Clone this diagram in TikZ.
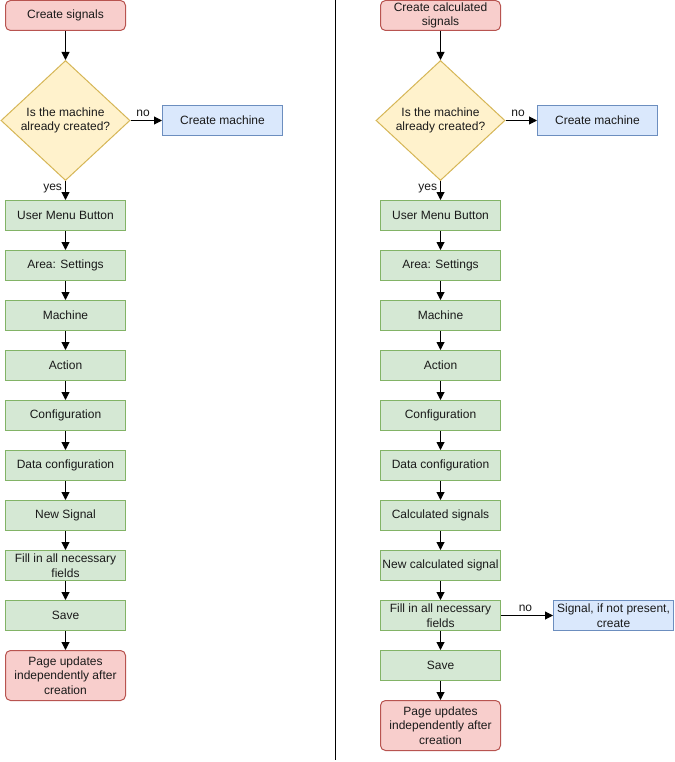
\documentclass[tikz,border=0pt]{standalone}
\usepackage{fontspec}
\setmainfont{Liberation Sans}
\usetikzlibrary{shapes.geometric,arrows.meta}
\definecolor{redf}{HTML}{F8CECC}\definecolor{redd}{HTML}{B85450}
\definecolor{yelf}{HTML}{FFF2CC}\definecolor{yeld}{HTML}{D6B656}
\definecolor{bluf}{HTML}{DAE8FC}\definecolor{blud}{HTML}{6C8EBF}
\definecolor{grnf}{HTML}{D5E8D4}\definecolor{grnd}{HTML}{82B366}
\definecolor{txt}{HTML}{1A1A1A}
\begin{document}
\begin{tikzpicture}[x=1pt,y=-1pt,
  every node/.style={font=\fontsize{12}{14.5}\selectfont, align=center, inner sep=0pt, text=txt},
  base/.style={draw, line width=1pt, minimum width=120pt, minimum height=30pt},
  term/.style={base, fill=redf, draw=redd, rounded corners=5pt},
  termtall/.style={term, minimum height=50pt},
  stepbox/.style={base, fill=grnf, draw=grnd},
  sidebox/.style={base, fill=bluf, draw=blud},
  decision/.style={diamond, draw=yeld, fill=yelf, line width=1pt, minimum width=129pt, minimum height=120pt, shape aspect=1.075},
  arr/.style={line width=1pt, -{Triangle[length=8pt,width=8pt]}},
  lbl/.style={font=\fontsize{12}{14}\selectfont, fill=none}
]
\useasboundingbox (0,0) rectangle (674,762);
\path[fill=white] (0,0) rectangle (674,762);
% divider
\coordinate (dt) at (335.5,0);
\coordinate (db) at (335.5,760);
\draw[line width=1pt] (dt) -- (db);

% Left column
\node[term] (l0) at (65.5,15.5) {Create signals};
\node[decision] (ld) at (65.5,120.5) {Is the machine\\already created?};
\node[sidebox] (lcm) at (222.5,120.5) {Create machine};
\node[stepbox] (l1) at (65.5,215.5) {User Menu Button};
\node[stepbox] (l2) at (65.5,265.5) {Area: Settings};
\node[stepbox] (l3) at (65.5,315.5) {Machine};
\node[stepbox] (l4) at (65.5,365.5) {Action};
\node[stepbox] (l5) at (65.5,415.5) {Configuration};
\node[stepbox] (l6) at (65.5,465.5) {Data configuration};
\node[stepbox] (l7) at (65.5,515.5) {New Signal};
\node[stepbox] (l8) at (65.5,565.5) {Fill in all necessary\\fields};
\node[stepbox] (l9) at (65.5,615.5) {Save};
\node[termtall] (l10) at (65.5,675.5) {Page updates\\independently after\\creation};

\draw[arr] (l0) -- (ld);
\draw[arr] (ld) -- node[lbl, pos=0.4, above=3pt] {no} (lcm);
\draw[arr] (ld) -- node[lbl, pos=0.4, left=3pt] {yes} (l1);
\foreach \a/\b in {l1/l2,l2/l3,l3/l4,l4/l5,l5/l6,l6/l7,l7/l8,l8/l9,l9/l10}
  \draw[arr] (\a) -- (\b);

% Right column
\node[term] (r0) at (440.5,15.5) {Create calculated\\signals};
\node[decision] (rd) at (440.5,120.5) {Is the machine\\already created?};
\node[sidebox] (rcm) at (597.5,120.5) {Create machine};
\node[stepbox] (r1) at (440.5,215.5) {User Menu Button};
\node[stepbox] (r2) at (440.5,265.5) {Area: Settings};
\node[stepbox] (r3) at (440.5,315.5) {Machine};
\node[stepbox] (r4) at (440.5,365.5) {Action};
\node[stepbox] (r5) at (440.5,415.5) {Configuration};
\node[stepbox] (r6) at (440.5,465.5) {Data configuration};
\node[stepbox] (r7) at (440.5,515.5) {Calculated signals};
\node[stepbox] (r8) at (440.5,565.5) {New calculated signal};
\node[stepbox] (r9) at (440.5,615.5) {Fill in all necessary\\fields};
\node[sidebox] (rs) at (613.5,615.5) {Signal, if not present,\\create};
\node[stepbox] (r10) at (440.5,665.5) {Save};
\node[termtall] (r11) at (440.5,725.5) {Page updates\\independently after\\creation};

\draw[arr] (r0) -- (rd);
\draw[arr] (rd) -- node[lbl, pos=0.4, above=3pt] {no} (rcm);
\draw[arr] (rd) -- node[lbl, pos=0.4, left=3pt] {yes} (r1);
\draw[arr] (r9) -- node[lbl, pos=0.47, above=3pt] {no} (rs);
\foreach \a/\b in {r1/r2,r2/r3,r3/r4,r4/r5,r5/r6,r6/r7,r7/r8,r8/r9,r9/r10,r10/r11}
  \draw[arr] (\a) -- (\b);
\end{tikzpicture}
\end{document}
